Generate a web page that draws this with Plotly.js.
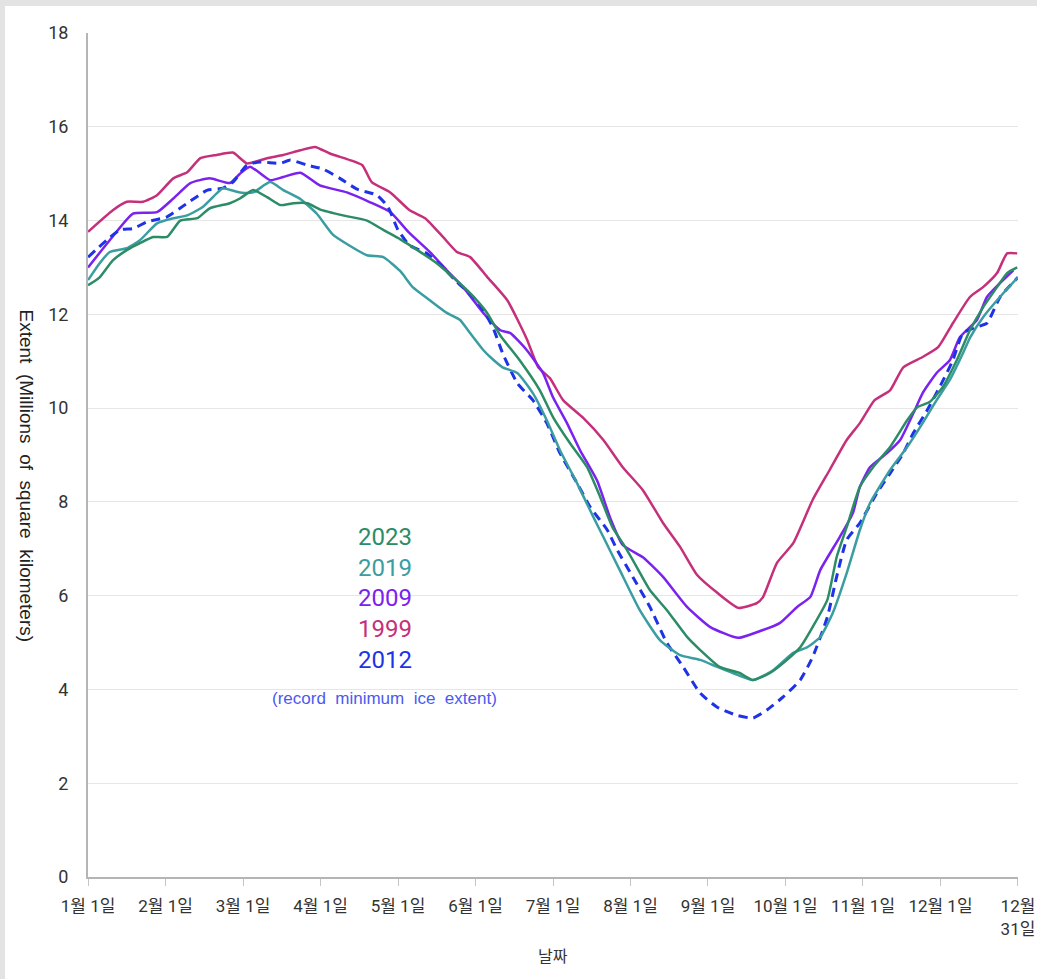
<!DOCTYPE html>
<html>
<head>
<meta charset="utf-8">
<script src="https://cdn.plot.ly/plotly-3.0.1.min.js"></script>
<style>
  html, body { margin: 0; padding: 0; background: #e3e3e3; width: 1037px; height: 979px; overflow: hidden; }
  #chart { position: absolute; left: 5px; top: 6px; width: 1032px; height: 973px; background: #fff; }
</style>
</head>
<body>
<div id="chart"></div>
<script>
// x positions are in months since 1 Jan (0 = 1월 1일, 12 = 12월 31일)
const monthLabels = ["1월 1일","2월 1일","3월 1일","4월 1일","5월 1일","6월 1일","7월 1일","8월 1일","9월 1일","10월 1일","11월 1일","12월 1일","12월<br>31일"];

const x2023 = [0,0.15,0.32,0.50,0.67,0.84,1.02,1.19,1.41,1.57,1.83,1.96,2.13,2.31,2.48,2.65,2.83,2.99,3.29,3.60,3.81,4.03,4.25,4.50,4.71,4.93,5.15,5.32,5.57,5.83,6.00,6.22,6.44,6.61,6.77,6.90,7.03,7.25,7.47,7.73,7.90,8.15,8.41,8.58,8.80,9.02,9.19,9.35,9.54,9.66,9.79,9.96,10.13,10.35,10.57,10.70,10.86,11.03,11.21,11.38,11.55,11.73,11.86,11.99];
const y2023 = [12.62,12.79,13.15,13.37,13.52,13.65,13.65,14.0,14.05,14.26,14.37,14.47,14.65,14.5,14.33,14.37,14.37,14.24,14.11,14.0,13.8,13.6,13.37,13.09,12.79,12.45,12.03,11.55,11.02,10.38,9.81,9.25,8.74,8.1,7.45,7.12,6.76,6.12,5.69,5.12,4.84,4.48,4.35,4.2,4.35,4.63,4.9,5.33,5.91,6.82,7.46,8.32,8.74,9.17,9.74,10.02,10.13,10.45,11.02,11.66,12.15,12.58,12.88,13.0];

const x2019 = [0,0.15,0.28,0.50,0.67,0.89,1.10,1.28,1.48,1.66,1.74,1.96,2.13,2.35,2.52,2.74,2.95,3.16,3.34,3.60,3.81,4.03,4.19,4.41,4.63,4.80,4.93,5.10,5.19,5.35,5.54,5.74,5.92,6.09,6.31,6.52,6.65,6.86,7.12,7.38,7.64,7.90,8.12,8.32,8.58,8.84,9.10,9.28,9.45,9.61,9.79,9.96,10.09,10.35,10.57,10.77,10.95,11.12,11.29,11.38,11.55,11.81,12.0];
const y2019 = [12.73,13.09,13.33,13.41,13.58,13.94,14.05,14.11,14.29,14.58,14.69,14.6,14.6,14.82,14.65,14.46,14.15,13.7,13.5,13.26,13.22,12.92,12.58,12.3,12.03,11.88,11.6,11.24,11.09,10.87,10.75,10.32,9.74,9.1,8.4,7.68,7.25,6.55,5.69,5.05,4.73,4.63,4.48,4.35,4.2,4.41,4.78,4.9,5.12,5.63,6.48,7.4,7.97,8.68,9.17,9.68,10.17,10.6,11.17,11.5,11.94,12.45,12.79];

const x2009 = [0,0.28,0.58,0.89,1.10,1.32,1.57,1.83,1.96,2.09,2.35,2.52,2.74,2.99,3.34,3.64,3.90,4.15,4.41,4.63,4.84,5.10,5.32,5.45,5.66,5.87,6.00,6.18,6.35,6.57,6.74,6.90,7.16,7.42,7.73,8.03,8.39,8.63,8.93,9.15,9.32,9.45,9.70,9.87,9.96,10.09,10.31,10.48,10.65,10.77,10.95,11.12,11.25,11.47,11.60,11.77,11.94];
const y2009 = [13.0,13.58,14.15,14.18,14.47,14.8,14.9,14.8,15.0,15.15,14.86,14.93,15.02,14.75,14.6,14.39,14.18,13.73,13.33,12.94,12.58,12.03,11.66,11.6,11.24,10.75,10.23,9.68,9.1,8.45,7.65,7.08,6.82,6.4,5.76,5.33,5.1,5.22,5.42,5.76,5.97,6.55,7.25,7.76,8.32,8.74,9.04,9.32,9.89,10.32,10.75,11.02,11.51,11.88,12.37,12.67,12.94];

const x1999 = [0,0.32,0.50,0.71,0.89,1.10,1.28,1.45,1.66,1.87,2.05,2.31,2.52,2.74,2.93,3.12,3.38,3.54,3.66,3.90,4.15,4.35,4.58,4.76,4.93,5.15,5.41,5.66,5.81,5.96,6.13,6.39,6.65,6.90,7.16,7.42,7.64,7.86,8.12,8.39,8.63,8.71,8.89,9.10,9.35,9.57,9.79,9.96,10.15,10.35,10.52,10.77,10.97,11.16,11.38,11.55,11.73,11.86,11.99];
const y1999 = [13.76,14.22,14.4,14.4,14.54,14.9,15.03,15.33,15.4,15.45,15.22,15.33,15.4,15.5,15.57,15.43,15.29,15.18,14.82,14.6,14.22,14.05,13.65,13.33,13.22,12.8,12.3,11.48,10.87,10.64,10.17,9.79,9.32,8.74,8.25,7.55,7.04,6.44,6.06,5.74,5.84,5.97,6.7,7.12,8.04,8.68,9.32,9.68,10.17,10.38,10.87,11.09,11.3,11.81,12.37,12.58,12.88,13.3,13.3];

const x2012 = [0,0.41,0.58,0.76,1.02,1.28,1.54,1.74,1.87,2.05,2.22,2.48,2.61,2.83,3.03,3.25,3.47,3.73,3.87,4.00,4.15,4.37,4.58,4.76,4.97,5.10,5.23,5.35,5.54,5.74,5.92,6.09,6.31,6.48,6.70,6.83,7.03,7.25,7.47,7.68,7.90,8.12,8.37,8.58,8.76,8.97,9.19,9.35,9.54,9.66,9.79,9.96,10.18,10.35,10.52,10.65,10.83,10.99,11.16,11.29,11.47,11.60,11.77,12.0];
const y2012 = [13.22,13.8,13.83,13.97,14.08,14.37,14.65,14.69,14.82,15.18,15.25,15.22,15.29,15.18,15.1,14.9,14.67,14.54,14.29,13.8,13.47,13.3,13.0,12.69,12.37,12.09,11.7,11.17,10.53,10.17,9.68,9.04,8.4,7.89,7.4,6.97,6.4,5.76,4.99,4.48,3.92,3.62,3.45,3.39,3.56,3.84,4.2,4.69,5.54,6.4,7.19,7.55,8.19,8.61,9.04,9.47,9.96,10.45,11.02,11.6,11.73,11.81,12.37,12.79];

const seriesNames = ["2023","2019","2009","1999","2012"];
const seriesColors = ["#2b8c66","#3a9da2","#7b22ee","#c5307a","#1f33e6"];
const legendNote = "(record minimum ice extent)";
const yTitle = "Extent (Millions of square kilometers)";
const xTitle = "날짜";

const fontTick = "Roboto, 'Noto Sans CJK KR', sans-serif";
const fontKR = "'Noto Sans CJK KR', sans-serif";

const xs = [x2023, x2019, x2009, x1999, x2012];
const ys = [y2023, y2019, y2009, y1999, y2012];
const drawOrder = [3, 2, 4, 1, 0];
const traces = drawOrder.map(i => ({
  x: xs[i], y: ys[i], type: "scatter", mode: "lines", name: seriesNames[i],
  line: { color: seriesColors[i], width: i === 4 ? 3 : 2.5, dash: i === 4 ? "9px,6px" : "solid", shape: "spline", smoothing: 0.5 },
  hoverinfo: "skip"
}));

const legendY = [7.25, 6.6, 5.95, 5.29, 4.63];
const annotations = seriesNames.map((n, i) => ({
  x: 3.83, y: legendY[i], xref: "x", yref: "y", text: n, showarrow: false,
  font: { family: "Roboto, sans-serif", size: 24, color: seriesColors[i] },
  xanchor: "center", yanchor: "middle"
}));
annotations.push({
  x: 3.83, y: 3.8, xref: "x", yref: "y", text: legendNote.replace(/ /g, "&nbsp;&nbsp;"), showarrow: false,
  font: { family: "'Liberation Sans', Arial, sans-serif", size: 17, color: "#4a5af0" },
  xanchor: "center", yanchor: "middle"
});
annotations.push({
  x: -0.066, y: 0.475, xref: "paper", yref: "paper", text: yTitle.replace(/ /g, "&nbsp;&nbsp;"), showarrow: false,
  textangle: 90, font: { family: "'Liberation Sans', Arial, sans-serif", size: 19, color: "#222" },
  xanchor: "center", yanchor: "middle"
});
annotations.push({
  x: 0.5, y: -0.092, xref: "paper", yref: "paper", text: xTitle, showarrow: false,
  font: { family: fontKR, size: 16, color: "#333" }, xanchor: "center", yanchor: "middle"
});

const layout = {
  width: 1032, height: 973,
  margin: { l: 83, r: 19, t: 27, b: 102 },
  paper_bgcolor: "#ffffff", plot_bgcolor: "#ffffff",
  showlegend: false,
  font: { family: fontTick, color: "#333" },
  xaxis: {
    range: [-0.0005, 12.0005], tickmode: "array", tickvals: [0,1,2,3,4,5,6,7,8,9,10,11,12], ticktext: monthLabels,
    showgrid: false, zeroline: false, showline: true, linecolor: "#b5b5b5", linewidth: 2,
    ticks: "outside", ticklen: 7, tickcolor: "#c4c4c4", tickwidth: 1, ticklabeloverflow: "allow", ticklabelstandoff: 6,
    tickfont: { family: fontTick, size: 17, color: "#333" }
  },
  yaxis: {
    range: [0, 18], tickmode: "array", tickvals: [0,2,4,6,8,10,12,14,16,18],
    showgrid: true, gridcolor: "#e6e6e6", gridwidth: 1, zeroline: false,
    showline: true, linecolor: "#b5b5b5", linewidth: 2, ticks: "", ticklabelstandoff: 14,
    tickfont: { family: "Roboto, sans-serif", size: 18, color: "#333" }
  },
  annotations: annotations
};

Plotly.newPlot("chart", traces, layout, { displayModeBar: false, staticPlot: true });
</script>
</body>
</html>
